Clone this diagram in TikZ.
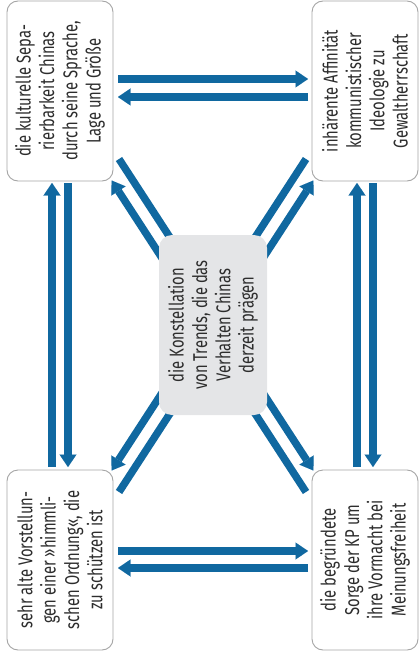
\documentclass[tikz,border=0pt]{standalone}
\usepackage{fontspec}
\setmainfont{Fira Sans}[FakeStretch=0.74]
\usetikzlibrary{arrows.meta,backgrounds}
\definecolor{arrblue}{RGB}{16,104,160}
\definecolor{boxgray}{RGB}{165,165,165}
\definecolor{ctrfill}{RGB}{228,229,231}
\definecolor{txtgray}{RGB}{45,45,45}
\tikzset{
  cbox/.style={draw=boxgray, line width=0.9pt, rounded corners=11pt, fill=white,
    rotate=90, minimum width=180pt, minimum height=106pt, inner sep=0pt,
    align=center, text=txtgray, font=\fontsize{20}{23.3}\selectfont},
  ctrbox/.style={cbox, draw=none, fill=ctrfill, minimum height=108pt, rounded corners=13pt},
  arr/.style={draw=arrblue, line width=7.5pt,
    -{Triangle[length=12.5pt,width=17pt,line width=0.01pt]}},
  ln/.style={draw=arrblue, line width=7.5pt}
}
\begin{document}
\begin{tikzpicture}[x=1pt,y=-1pt]
\useasboundingbox (0,0) rectangle (419,655);
% boxes
\node[cbox] (tl) at (60,91) {die kulturelle Sepa-\\rierbarkeit Chinas\\durch seine Sprache,\\Lage und Größe};
\node[cbox] (tr) at (365,91) {inhärente Affinität\\kommunistischer\\Ideologie zu\\Gewaltherrschaft};
\node[cbox] (bl) at (60,560) {sehr alte Vorstellun-\\gen einer »himmli-\\schen Ordnung«, die\\zu schützen ist};
\node[cbox] (br) at (365,560) {die begründete\\Sorge der KP um\\ihre Vormacht bei\\Meinungsfreiheit};
\node[ctrbox] (ctr) at (213,325) {die Konstellation\\von Trends, die das\\Verhalten Chinas\\derzeit prägen};
% connector end points
\coordinate (htA) at (118,79);  \coordinate (htB) at (308,79);
\coordinate (htC) at (308,97);  \coordinate (htD) at (118,97);
\coordinate (hbA) at (118,551); \coordinate (hbB) at (308,551);
\coordinate (hbC) at (308,568); \coordinate (hbD) at (118,568);
\coordinate (vlA) at (52,467);  \coordinate (vlB) at (52,183);
\coordinate (vlC) at (68,183);  \coordinate (vlD) at (68,467);
\coordinate (vrA) at (357,467); \coordinate (vrB) at (357,183);
\coordinate (vrC) at (373,183); \coordinate (vrD) at (373,467);
\coordinate (dtlA) at (174.3,277);   \coordinate (dtlB) at (111.6,180.5);
\coordinate (dtlC) at (119,159);     \coordinate (dtlD) at (181.7,255.5);
\coordinate (dtrA) at (250.7,277);   \coordinate (dtrB) at (313.4,180.5);
\coordinate (dtrC) at (306,159);     \coordinate (dtrD) at (243.3,255.5);
\coordinate (dblA) at (174.3,374);   \coordinate (dblB) at (111.6,470.5);
\coordinate (dblC) at (119,492);     \coordinate (dblD) at (181.7,395.5);
\coordinate (dbrA) at (250.7,374);   \coordinate (dbrB) at (313.4,470.5);
\coordinate (dbrC) at (306,492);     \coordinate (dbrD) at (243.3,395.5);
\begin{scope}[on background layer]
\draw[arr] (htA) -- (htB);
\draw[arr] (htC) -- (htD);
\draw[arr] (hbA) -- (hbB);
\draw[arr] (hbC) -- (hbD);
\draw[arr] (vlA) -- (vlB);
\draw[arr] (vlC) -- (vlD);
\draw[arr] (vrA) -- (vrB);
\draw[arr] (vrC) -- (vrD);
\draw[arr] (dtlA) -- (dtlB);
\draw[ln]  (dtlC) -- (dtlD);
\draw[arr] (dtrA) -- (dtrB);
\draw[ln]  (dtrC) -- (dtrD);
\draw[arr] (dblA) -- (dblB);
\draw[ln]  (dblC) -- (dblD);
\draw[arr] (dbrA) -- (dbrB);
\draw[ln]  (dbrC) -- (dbrD);
\end{scope}
\end{tikzpicture}
\end{document}
